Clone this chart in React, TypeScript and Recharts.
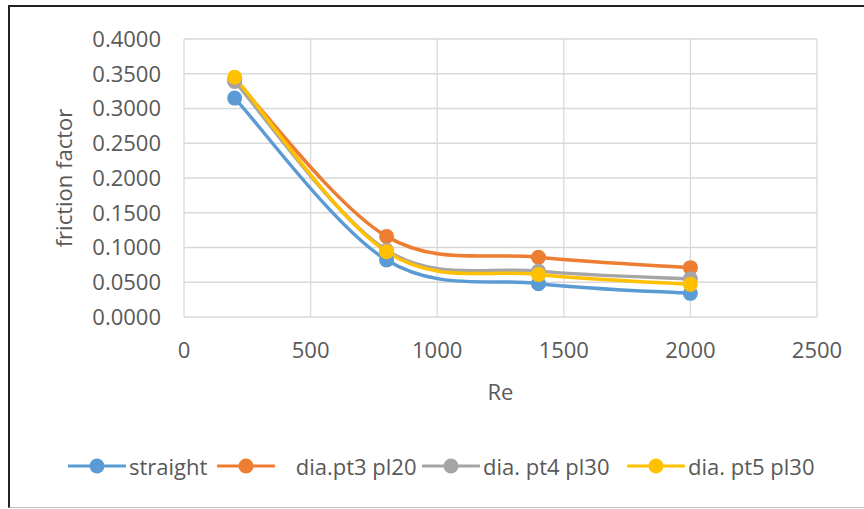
import {
  LineChart, Line, XAxis, YAxis, CartesianGrid, Legend,
} from 'recharts'

const reynolds = [200, 800, 1400, 2000]
const straight = [0.315, 0.082, 0.048, 0.034]
const pt3pl20 = [0.342, 0.116, 0.086, 0.071]
const pt4pl30 = [0.339, 0.096, 0.066, 0.055]
const pt5pl30 = [0.345, 0.094, 0.061, 0.047]

const xTicks = [0, 500, 1000, 1500, 2000, 2500]
const yTicks = [0, 0.05, 0.1, 0.15, 0.2, 0.25, 0.3, 0.35, 0.4]

const series = [
  { key: 'straight', name: 'straight', color: '#5B9BD5' },
  { key: 'pt3', name: ' dia.pt3 pl20', color: '#ED7D31' },
  { key: 'pt4', name: 'dia. pt4 pl30', color: '#A5A5A5' },
  { key: 'pt5', name: 'dia. pt5 pl30', color: '#FFC000' },
]
// legend slot widths
const legendWidths = [149, 205, 205, 210]

const data = reynolds.map((re, i) => ({
  re,
  straight: straight[i],
  pt3: pt3pl20[i],
  pt4: pt4pl30[i],
  pt5: pt5pl30[i],
}))

const FONT = '"Open Sans", sans-serif'
const TEXT = '#595959'

// Excel-style smoothed line (Catmull-Rom converted to Bezier segments)
function smoothCurve(context: any) {
  let pts: [number, number][] = []
  return {
    areaStart() {},
    areaEnd() {},
    lineStart() { pts = [] },
    point(x: number, y: number) { pts.push([+x, +y]) },
    lineEnd() {
      if (!pts.length) return
      context.moveTo(pts[0][0], pts[0][1])
      for (let i = 0; i < pts.length - 1; i++) {
        const p0 = pts[i - 1] ?? pts[i]
        const p1 = pts[i]
        const p2 = pts[i + 1]
        const p3 = pts[i + 2] ?? pts[i + 1]
        context.bezierCurveTo(
          p1[0] + (p2[0] - p0[0]) / 6, p1[1] + (p2[1] - p0[1]) / 6,
          p2[0] - (p3[0] - p1[0]) / 6, p2[1] - (p3[1] - p1[1]) / 6,
          p2[0], p2[1],
        )
      }
    },
  }
}

function LegendContent() {
  return (
    <div style={{ display: 'flex', alignItems: 'center', height: 60, paddingLeft: 68, fontFamily: FONT, fontSize: 22, color: TEXT }}>
      {series.map((s, i) => (
        <div key={s.key} style={{ display: 'flex', alignItems: 'center', width: legendWidths[i], flex: 'none' }}>
          <svg width={58} height={18} style={{ marginRight: 3, flex: 'none' }}>
            <line x1={1} y1={9} x2={57} y2={9} stroke={s.color} strokeWidth={3} strokeLinecap="round" />
            <circle cx={29} cy={9} r={7.5} fill={s.color} />
          </svg>
          <span style={{ whiteSpace: 'pre', marginLeft: i === 1 ? 12 : 0 }}>{s.name}</span>
        </div>
      ))}
    </div>
  )
}

export default function App() {
  return (
    <div style={{ position: 'absolute', left: 0, top: 0, width: 864, height: 509, background: '#fff' }}>
      <div style={{
        position: 'absolute', left: 8, top: 5, width: 860, height: 500,
        borderLeft: '2px solid #222', borderTop: '2px solid #222', borderBottom: '1px solid #bfbfbf',
      }} />
      <div style={{ position: 'absolute', left: 0, top: 0 }}>
        <LineChart width={864} height={509} data={data} margin={{ top: 39, right: 47, left: 0, bottom: 13 }}>
          <CartesianGrid stroke="#d9d9d9" strokeWidth={1.3} />
          <XAxis
            dataKey="re" type="number" domain={[0, 2500]} ticks={xTicks}
            axisLine={false} tickLine={false} tickSize={0} tickMargin={25} height={119}
            tick={{ fill: TEXT, fontSize: 22, fontFamily: FONT }}
            label={{ value: 'Re', position: 'insideTop', offset: 67, fill: TEXT, fontSize: 22, fontFamily: FONT }}
          />
          <YAxis
            type="number" domain={[0, 0.4]} ticks={yTicks} width={184}
            axisLine={false} tickLine={false} tickSize={0} tickMargin={23}
            tickFormatter={(v: number) => v.toFixed(4)}
            tick={{ fill: TEXT, fontSize: 22, fontFamily: FONT }}
            label={{ value: 'friction factor', angle: -90, position: 'center', dx: -28, fill: TEXT, fontSize: 22, fontFamily: FONT }}
          />
          <Legend verticalAlign="bottom" content={<LegendContent />} wrapperStyle={{ height: 60 }} />
          {series.map(s => (
            <Line
              key={s.key} dataKey={s.key} name={s.name} type={smoothCurve as any}
              stroke={s.color} strokeWidth={3.5}
              dot={{ r: 7.5, fill: s.color, stroke: 'none' }} activeDot={false}
              isAnimationActive={false}
            />
          ))}
        </LineChart>
      </div>
    </div>
  )
}
